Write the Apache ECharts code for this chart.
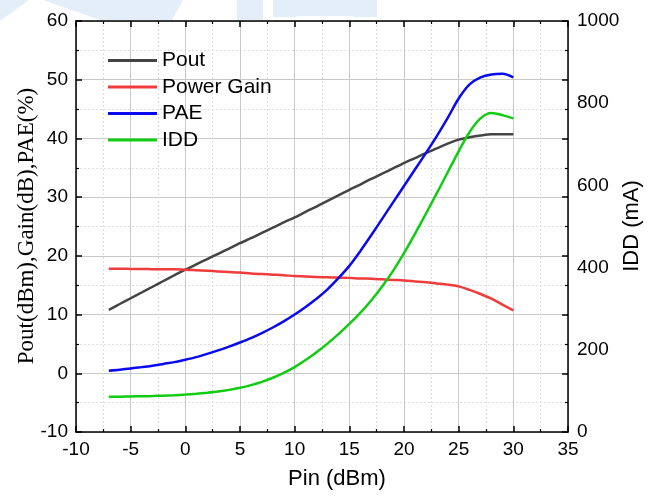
<!DOCTYPE html>
<html>
<head>
<meta charset="utf-8">
<script src="https://cdn.jsdelivr.net/npm/echarts@6/dist/echarts.min.js"></script>
<style>
  html, body { margin: 0; padding: 0; background: #fff; }
  #chart { width: 657px; height: 496px; }
</style>
</head>
<body>
<div id="chart"></div>
<script>
// Input power sweep (dBm)
const pin = [-7,-6,-5,-4,-3,-2,-1,0,1,2,3,4,5,6,7,8,9,10,11,12,13,14,15,16,17,18,19,20,21,22,23,24,25,26,27,28,29,30];

// Output power (dBm)
const pout = [10.8,11.8,12.78,13.76,14.74,15.72,16.7,17.65,18.55,19.45,20.35,21.25,22.15,23.0,23.9,24.8,25.7,26.55,27.5,28.4,29.35,30.3,31.25,32.15,33.1,34.0,34.9,35.8,36.65,37.5,38.3,39.1,39.8,40.2,40.5,40.7,40.7,40.7];

// Power gain (dB)
const gain = [17.8,17.8,17.78,17.76,17.74,17.72,17.7,17.65,17.55,17.45,17.35,17.25,17.15,17.0,16.9,16.8,16.7,16.55,16.5,16.4,16.35,16.3,16.25,16.15,16.1,16.0,15.9,15.8,15.65,15.5,15.3,15.1,14.8,14.2,13.5,12.7,11.7,10.7];

// Power added efficiency (%)
const pae = [0.45,0.6,0.8,1.05,1.3,1.6,1.9,2.3,2.75,3.3,3.9,4.55,5.25,6.0,6.85,7.8,8.85,10.0,11.3,12.7,14.3,16.2,18.3,20.8,23.5,26.3,29.1,31.9,34.7,37.5,40.4,43.5,46.8,49.2,50.4,50.9,51.0,50.4];

// Drain current (mA)
const idd = [86,86,86.5,87,87.5,88.5,89.5,91,93,95.5,98.5,102.5,107.5,114,122,132,144,158,175,194,215,238,263,290,320,354,392,435,482,531,581,632,683,730,763,776,771,763];

// Axis tick values
const xTicks = { min: -10, max: 35, step: 5 };
const yLeftTicks = { min: -10, max: 60, step: 10 };
const yRightTicks = { min: 0, max: 1000, step: 200 };

// Axis titles
const xTitle = 'Pin (dBm)';
const yLeftTitle = 'Pout(dBm),Gain(dB),PAE(%)';
const yRightTitle = 'IDD (mA)';

const seriesNames = ['Pout', 'Power Gain', 'PAE', 'IDD'];
const seriesColors = ['#444444', '#f03c3c', '#0a0aee', '#12cc12'];

const zip = (xs, ys) => xs.map((x, i) => [x, ys[i]]);

const sans = '"Liberation Sans", Arial, sans-serif';
const serif = '"Liberation Serif", "Times New Roman", serif';

const axisLineStyle = { show: true, onZero: false, lineStyle: { color: '#000', width: 1.5 } };
const innerTick = { show: true, inside: true, length: 6, lineStyle: { color: '#000', width: 1.5 } };
const innerMinor = { show: true, splitNumber: 2, length: 3, lineStyle: { color: '#000', width: 1.2 } };
const majorGrid = { show: true, lineStyle: { color: '#c8c8c8', width: 1, type: 'solid' } };
const minorGrid = { show: true, lineStyle: { color: '#dedede', width: 1, type: [2, 2] } };
const plainNumber = v => String(v);

const chart = echarts.init(document.getElementById('chart'), null, { renderer: 'canvas' });

const line = (name, data, color, yAxisIndex) => ({
  name, type: 'line', data, yAxisIndex,
  symbol: 'none', smooth: 0.3,
  lineStyle: { color, width: 2.5 },
  itemStyle: { color },
  z: 3
});

chart.setOption({
  animation: false,
  backgroundColor: '#fff',
  grid: { left: 76, right: 89, top: 21, bottom: 64, containLabel: false },
  graphic: [
    // faint logo shapes along the top edge
    { type: 'polygon', z: -10, shape: { points: [[0,0],[29,0],[0,21]] }, style: { fill: '#e4eef8' } },
    { type: 'polygon', z: -10, shape: { points: [[43,0],[183,0],[172,20],[100,20]] }, style: { fill: '#e4eef8' } },
    { type: 'rect', z: -10, shape: { x: 237, y: 0, width: 26, height: 20 }, style: { fill: '#e4eef8' } },
    { type: 'rect', z: -10, shape: { x: 273, y: 0, width: 104, height: 17 }, style: { fill: '#e4eef8' } },
    { type: 'rect', z: -9, shape: { x: 297, y: 16, width: 56, height: 4 }, style: { fill: '#ffffff' } },
    // vertical axis titles
    {
      type: 'text', x: 27, y: 226, rotation: Math.PI / 2,
      style: { text: yLeftTitle, font: '23px ' + serif, fill: '#000', textAlign: 'center', textVerticalAlign: 'middle' }
    },
    {
      type: 'text', x: 632, y: 226, rotation: Math.PI / 2,
      style: { text: yRightTitle, font: '22px ' + sans, fill: '#000', textAlign: 'center', textVerticalAlign: 'middle' }
    }
  ],
  legend: {
    data: seriesNames,
    orient: 'vertical',
    left: 103, top: 45,
    itemWidth: 49, itemHeight: 3, itemGap: 5.5,
    icon: 'rect',
    textStyle: { fontFamily: sans, fontSize: 21, color: '#000', lineHeight: 21 }
  },
  xAxis: [
    {
      type: 'value', position: 'bottom',
      min: xTicks.min, max: xTicks.max, interval: xTicks.step,
      name: xTitle, nameLocation: 'middle', nameGap: 36,
      nameTextStyle: { fontFamily: sans, fontSize: 22, color: '#000', padding: [0, 0, 0, 30] },
      axisLine: axisLineStyle, axisTick: innerTick, minorTick: innerMinor,
      splitLine: majorGrid, minorSplitLine: minorGrid,
      axisLabel: { fontFamily: sans, fontSize: 19, color: '#000', margin: 8, formatter: plainNumber }
    },
    {
      type: 'value', position: 'top',
      min: xTicks.min, max: xTicks.max, interval: xTicks.step,
      axisLine: axisLineStyle, axisTick: innerTick, minorTick: innerMinor,
      splitLine: { show: false }, axisLabel: { show: false }
    }
  ],
  yAxis: [
    {
      type: 'value', position: 'left',
      min: yLeftTicks.min, max: yLeftTicks.max, interval: yLeftTicks.step,
      axisLine: axisLineStyle, axisTick: innerTick, minorTick: innerMinor,
      splitLine: majorGrid, minorSplitLine: minorGrid,
      axisLabel: { fontFamily: sans, fontSize: 19, color: '#000', margin: 8, formatter: plainNumber }
    },
    {
      type: 'value', position: 'right',
      min: yRightTicks.min, max: yRightTicks.max, interval: yRightTicks.step,
      axisLine: { show: false, onZero: false }, axisTick: { show: false },
      splitLine: { show: false },
      axisLabel: { fontFamily: sans, fontSize: 19, color: '#000', margin: 9, formatter: plainNumber }
    },
    {
      type: 'value', position: 'right',
      min: yLeftTicks.min, max: yLeftTicks.max, interval: yLeftTicks.step,
      axisLine: axisLineStyle, axisTick: innerTick, minorTick: innerMinor,
      splitLine: { show: false }, axisLabel: { show: false }
    }
  ],
  series: [
    line(seriesNames[0], zip(pin, pout), seriesColors[0], 0),
    line(seriesNames[1], zip(pin, gain), seriesColors[1], 0),
    line(seriesNames[2], zip(pin, pae), seriesColors[2], 0),
    line(seriesNames[3], zip(pin, idd), seriesColors[3], 1)
  ]
});
</script>
</body>
</html>
